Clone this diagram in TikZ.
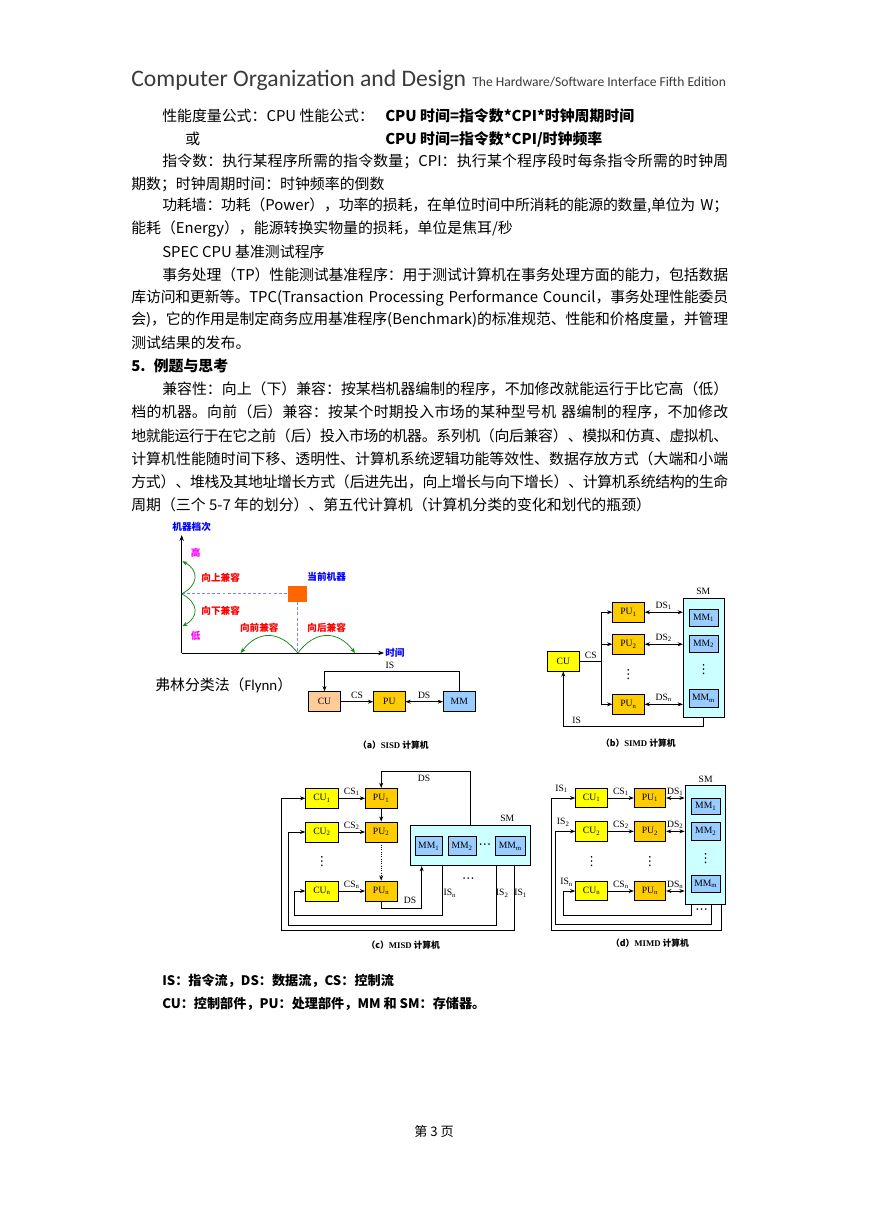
\documentclass[tikz,border=0pt]{standalone}
\usepackage{fontspec}
\setmainfont{Noto Sans CJK SC}
\newfontfamily\hdfont{Carlito}
\newfontfamily\tms{Liberation Serif}
\newfontfamily\symfont{DejaVu Sans}
\usetikzlibrary{arrows.meta}
\XeTeXlinebreaklocale "zh"
\XeTeXlinebreakskip=0pt plus 2pt minus 0.6pt

\definecolor{cupeach}{HTML}{FFCC99}
\definecolor{cuyellow}{HTML}{FFFF00}
\definecolor{puorange}{HTML}{FFCC00}
\definecolor{mmblue}{HTML}{99CCFF}
\definecolor{smcyan}{HTML}{CCFFFF}
\definecolor{tagblue}{HTML}{0000FF}
\definecolor{tagmagenta}{HTML}{FF00FF}
\definecolor{tagred}{HTML}{FF0000}
\definecolor{jumpgreen}{HTML}{118811}
\definecolor{guideblue}{HTML}{7F7FFF}
\definecolor{cursq}{HTML}{FF6600}
\definecolor{headgray}{HTML}{3A3A3A}

\newcommand\bodyfont{\fontsize{10.2}{12}\selectfont}
\newcommand\unitfont{\tms\fontsize{6.6}{7.5}\selectfont}
\newcommand\dotfont{\symfont\fontsize{8.6}{9}\selectfont}
\newcommand\capfont{\fontsize{6}{7}\selectfont\bfseries}
\newcommand\tagfont{\fontsize{6.6}{7.5}\selectfont\bfseries}
\newcommand\notefont{\fontsize{9}{11}\selectfont\bfseries}
\newcommand\fillline[1]{\noindent\leftskip=0pt\rightskip=0pt\parfillskip=0pt\tolerance=9999 #1\par}

\begin{document}
\begin{tikzpicture}[
    x=0.685pt, y=-0.685pt,
    every node/.style={inner sep=0pt},
    txt/.style={anchor=west, font=\bodyfont},
    indline/.style={txt, text width=387.7pt},
    fullline/.style={txt, text width=408.9pt},
    unitbox/.style={draw, line width=0.5pt, font=\unitfont, minimum width=22pt, minimum height=13.4pt},
    cubox/.style={unitbox, fill=cuyellow},
    pubox/.style={unitbox, fill=puorange, minimum width=21.6pt},
    mmbox/.style={unitbox, fill=mmblue, minimum width=20pt, minimum height=11.6pt},
    smbox/.style={draw, line width=0.5pt, fill=smcyan},
    lbl/.style={font=\unitfont},
    dots/.style={font=\dotfont},
    capt/.style={font=\capfont},
    tag/.style={font=\tagfont},
    flow/.style={-{Stealth[length=3.6pt,width=2.7pt]}, line width=0.6pt},
    dsflow/.style={{Stealth[length=3.6pt,width=2.7pt]}-{Stealth[length=3.6pt,width=2.7pt]}, line width=0.6pt},
    link/.style={line width=0.6pt},
    axisline/.style={-{Stealth[length=4pt,width=3pt]}, line width=0.6pt},
    jump/.style={-{Stealth[length=3.6pt,width=2.8pt]}, draw=jumpgreen, line width=0.5pt},
    guide/.style={draw=guideblue, line width=0.6pt, dash pattern=on 2pt off 1.5pt}
]
\path[use as bounding box, fill=white] (0,0) rectangle (869,1228);

\node[anchor=base west, font=\hdfont\fontsize{16.2}{19}\selectfont, text=headgray] (title) at (131,87) {Computer Organization and Design};
\node[anchor=base west, font=\hdfont\fontsize{9.3}{11}\selectfont, text=headgray] (subtitle) at (472,87) {The Hardware/Software Interface Fifth Edition};

\node[txt] (l1a) at (162,116) {性能度量公式：CPU 性能公式：};
\node[txt, font=\bodyfont\bfseries] (l1b) at (385,116) {CPU 时间=指令数*CPI*时钟周期时间};
\node[txt] (l2a) at (185,139) {或};
\node[txt, font=\bodyfont\bfseries] (l2b) at (385,139) {CPU 时间=指令数*CPI/时钟频率};
\node[indline] (l3) at (162,161) {\fillline{指令数：执行某程序所需的指令数量；CPI：执行某个程序段时每条指令所需的时钟周}};
\node[txt] (l4) at (131,184) {期数；时钟周期时间：时钟频率的倒数};
\node[indline] (l5) at (162,206) {\fillline{功耗墙：功耗（Power），功率的损耗，在单位时间中所消耗的能源的数量,单位为 W；}};
\node[txt] (l6) at (131,229) {能耗（Energy），能源转换实物量的损耗，单位是焦耳/秒};
\node[txt] (l7) at (162,252) {SPEC CPU 基准测试程序};
\node[indline] (l8) at (162,275) {\fillline{事务处理（TP）性能测试基准程序：用于测试计算机在事务处理方面的能力，包括数据}};
\node[fullline] (l9) at (131,298) {\fillline{库访问和更新等。TPC(Transaction Processing Performance Council，事务处理性能委员}};
\node[fullline] (l10) at (131,320) {\fillline{会)，它的作用是制定商务应用基准程序(Benchmark)的标准规范、性能和价格度量，并管理}};
\node[txt] (l11) at (131,343) {测试结果的发布。};
\node[txt, font=\bodyfont\bfseries] (sec5) at (131,366) {5.\hspace{0.55em}例题与思考};
\node[indline] (l13) at (162,389) {\fillline{兼容性：向上（下）兼容：按某档机器编制的程序，不加修改就能运行于比它高（低）}};
\node[fullline] (l14) at (131,412) {\fillline{档的机器。向前（后）兼容：按某个时期投入市场的某种型号机 器编制的程序，不加修改}};
\node[fullline] (l15) at (131,436) {\fillline{地就能运行于在它之前（后）投入市场的机器。系列机（向后兼容）、模拟和仿真、虚拟机、}};
\node[fullline] (l16) at (131,459) {\fillline{计算机性能随时间下移、透明性、计算机系统逻辑功能等效性、数据存放方式（大端和小端}};
\node[fullline] (l17) at (131,482) {\fillline{方式）、堆栈及其地址增长方式（后进先出，向上增长与向下增长）、计算机系统结构的生命}};
\node[txt] (l18) at (131,505) {周期（三个 5-7 年的划分）、第五代计算机（计算机分类的变化和划代的瓶颈）};

\coordinate (orig) at (181.7,653);
\coordinate (ytop) at (181.7,535);
\coordinate (xend) at (384,653);
\draw[axisline] (orig) -- (ytop);
\draw[axisline] (orig) -- (xend);
\node[tag, text=tagblue] (yname) at (191.7,527) {机器档次};
\node[tag, text=tagblue, anchor=west] (xname) at (385,653) {时间};
\node[tag, text=tagmagenta] (high) at (195.7,552.5) {高};
\node[tag, text=tagmagenta] (low) at (195.7,636.3) {低};
\node[tag, text=tagred] (upname) at (220.7,577.3) {向上兼容};
\node[tag, text=tagred] (downname) at (220.7,610.7) {向下兼容};
\node[tag, text=tagred] (fwdname) at (259.3,627.3) {向前兼容};
\node[tag, text=tagred] (bwdname) at (326.7,627.3) {向后兼容};
\node[tag, text=tagblue] (curname) at (326.7,577.3) {当前机器};
\node[fill=cursq, minimum width=13pt, minimum height=11.2pt] (cur) at (297.8,593.8) {};
\coordinate (ymid) at (181.7,593.8);
\coordinate (xmid) at (297.8,653);
\coordinate (yhigh) at (182.3,561.3);
\coordinate (ylow) at (182.3,626.3);
\coordinate (xleft) at (240.7,653);
\coordinate (xright) at (355,653);
\draw[guide] (ymid) -- (cur.west);
\draw[guide] (cur.south) -- (xmid);
\draw[jump] (ymid) .. controls (199,585) and (199,570) .. (yhigh);
\draw[jump] (ymid) .. controls (199,603) and (199,617) .. (ylow);
\draw[jump] (xmid) .. controls (280,630) and (258,630) .. (xleft);
\draw[jump] (xmid) .. controls (315,630) and (338,630) .. (xright);

\node[txt] (flynn) at (155,685) {弗林分类法（{\hdfont Flynn}）};

\node[unitbox, fill=cupeach, minimum width=22.2pt, minimum height=13.7pt] (cuA) at (324.5,701.7) {CU};
\node[pubox, minimum height=13.7pt] (puA) at (389.3,701.7) {PU};
\node[unitbox, fill=mmblue, minimum width=21.9pt, minimum height=13.7pt] (mmA) at (459.3,701.7) {MM};
\coordinate (isA) at (390,671.7);
\draw[flow] (cuA) -- (puA) node[lbl, midway, above=1.6pt] (csA) {CS};
\draw[dsflow] (puA) -- (mmA) node[lbl, midway, above=1.6pt] (dsA) {DS};
\draw[flow] (mmA.north) |- (isA) -| (cuA.north);
\node[lbl] (isAl) at (390,665) {IS};
\node[capt] (capA) at (393.3,745) {（a）{\tms SISD} 计算机};

\node[smbox, minimum width=27.9pt, minimum height=81.8pt] (smB) at (703.65,658) {};
\node[lbl] (smBl) at (703.3,591.7) {SM};
\node[mmbox] (mmB1) at (703.65,617.65) {MM\textsubscript{1}};
\node[mmbox] (mmB2) at (703.65,643.65) {MM\textsubscript{2}};
\node[dots] (mmBd) at (703.65,670) {⋮};
\node[mmbox, minimum height=12.5pt] (mmBm) at (703.65,698.15) {MM\textsubscript{m}};
\node[pubox] (puB1) at (628.5,612.2) {PU\textsubscript{1}};
\node[pubox] (puB2) at (628.5,644.2) {PU\textsubscript{2}};
\node[dots] (puBd) at (628.5,674.3) {⋮};
\node[pubox] (puBn) at (628.5,704.3) {PU\textsubscript{n}};
\node[cubox, minimum height=13.7pt] (cuB) at (563.3,661) {CU};
\coordinate (busB) at (601.7,661);
\coordinate (isB) at (576.7,726.7);
\draw[link] (cuB) -- (busB) node[lbl, midway, above=1.6pt] (csB) {CS};
\draw[flow] (busB) |- (puB1);
\draw[flow] (busB) |- (puB2);
\draw[flow] (busB) |- (puBn);
\draw[dsflow] (puB1) -- (puB1 -| smB.west) node[lbl, midway, above=1.4pt] (dsB1) {DS\textsubscript{1}};
\draw[dsflow] (puB2) -- (puB2 -| smB.west) node[lbl, midway, above=1.4pt] (dsB2) {DS\textsubscript{2}};
\draw[dsflow] (puBn) -- (puBn -| smB.west) node[lbl, midway, above=1.4pt] (dsBn) {DS\textsubscript{n}};
\draw[flow] (smB.south) |- (isB) -| (cuB.south);
\node[lbl] (isBl) at (576.7,720) {IS};
\node[capt] (capB) at (638.3,743.3) {（b）{\tms SIMD} 计算机};

\node[cubox, minimum width=22.3pt, minimum height=13.7pt] (cuC1) at (322,798.3) {CU\textsubscript{1}};
\node[cubox, minimum width=22.3pt, minimum height=13.7pt] (cuC2) at (322,832) {CU\textsubscript{2}};
\node[dots] (cuCd) at (322,861.7) {⋮};
\node[cubox, minimum width=22.3pt, minimum height=13.7pt] (cuCn) at (322,891) {CU\textsubscript{n}};
\node[pubox, minimum height=13.7pt] (puC1) at (381.2,798.3) {PU\textsubscript{1}};
\node[pubox, minimum height=13.7pt] (puC2) at (381.2,832) {PU\textsubscript{2}};
\node[pubox, minimum height=13.7pt] (puCn) at (381.2,891) {PU\textsubscript{n}};
\node[smbox, minimum width=82.2pt, minimum height=27.4pt] (smC) at (470,845.7) {};
\node[lbl] (smCl) at (507.3,818.3) {SM};
\node[mmbox, minimum width=19pt, minimum height=13pt] (mmC1) at (428.85,846.2) {MM\textsubscript{1}};
\node[mmbox, minimum width=19pt, minimum height=13pt] (mmC2) at (462.15,846.2) {MM\textsubscript{2}};
\node[dots] (mmCd) at (485,846) {⋯};
\node[mmbox, minimum width=20pt, minimum height=13pt] (mmCm) at (510.35,846.2) {MM\textsubscript{m}};
\draw[flow] (cuC1) -- (puC1) node[lbl, midway, above=1.4pt] (csC1) {CS\textsubscript{1}};
\draw[flow] (cuC2) -- (puC2) node[lbl, midway, above=1.4pt] (csC2) {CS\textsubscript{2}};
\draw[flow] (cuCn) -- (puCn) node[lbl, midway, above=1.4pt] (csCn) {CS\textsubscript{n}};
\draw[flow] (puC1) -- (puC2);
\draw[flow, densely dotted] (puC2) -- (puCn);
\coordinate (dsC) at (424,771.7);
\coordinate (dsCb) at (421.7,908.3);
\draw[flow] (smC.north) |- (dsC) -| (puC1.north);
\node[lbl] (dsCl) at (424,778.3) {DS};
\draw[flow] (puCn.south) |- (dsCb) -- (dsCb |- smC.south);
\node[lbl] (dsCbl) at (410,900) {DS};
\coordinate (tapCn) at (442.3,865.7);
\coordinate (tapC2) at (496.7,865.7);
\coordinate (tapC1) at (514.3,865.7);
\coordinate (isCn) at (294,915);
\coordinate (isC2) at (288.3,925);
\coordinate (isC1) at (281.7,930.7);
\draw[flow] (tapCn) |- (isCn) |- (cuCn.west);
\draw[flow] (tapC2) |- (isC2) |- (cuC2.west);
\draw[flow] (tapC1) |- (isC1) |- (cuC1.west);
\node[lbl] (isCnl) at (450,893.3) {IS\textsubscript{n}};
\node[lbl] (isC2l) at (502.3,893.3) {IS\textsubscript{2}};
\node[lbl] (isC1l) at (520.7,893.3) {IS\textsubscript{1}};
\node[dots] (isCd) at (468.3,880) {⋯};
\node[capt] (capC) at (403.3,945) {（c）{\tms MISD} 计算机};

\node[smbox, minimum width=27.9pt, minimum height=81.7pt] (smD) at (705.35,844.65) {};
\node[lbl] (smDl) at (705.7,779) {SM};
\node[mmbox, minimum width=20.3pt, minimum height=11pt] (mmD1) at (705.85,806.3) {MM\textsubscript{1}};
\node[mmbox, minimum width=20.3pt, minimum height=12.1pt] (mmD2) at (705.85,831.15) {MM\textsubscript{2}};
\node[dots] (mmDd) at (705.7,859) {⋮};
\node[mmbox, minimum width=20.3pt, minimum height=12.1pt] (mmDm) at (705.85,883.85) {MM\textsubscript{m}};
\node[cubox] (cuD1) at (591.7,798) {CU\textsubscript{1}};
\node[cubox] (cuD2) at (591.7,831.35) {CU\textsubscript{2}};
\node[dots] (cuDd) at (591.7,861.7) {⋮};
\node[cubox] (cuDn) at (591.7,891) {CU\textsubscript{n}};
\node[pubox] (puD1) at (650,798) {PU\textsubscript{1}};
\node[pubox] (puD2) at (650,831.35) {PU\textsubscript{2}};
\node[dots] (puDd) at (650,861.7) {⋮};
\node[pubox] (puDn) at (650,891) {PU\textsubscript{n}};
\draw[flow] (cuD1) -- (puD1) node[lbl, midway, above=1.4pt] (csD1) {CS\textsubscript{1}};
\draw[flow] (cuD2) -- (puD2) node[lbl, midway, above=1.4pt] (csD2) {CS\textsubscript{2}};
\draw[flow] (cuDn) -- (puDn) node[lbl, midway, above=1.4pt] (csDn) {CS\textsubscript{n}};
\draw[dsflow] (puD1) -- (puD1 -| smD.west) node[lbl, midway, above=1.4pt] (dsD1) {DS\textsubscript{1}};
\draw[dsflow] (puD2) -- (puD2 -| smD.west) node[lbl, midway, above=1.4pt] (dsD2) {DS\textsubscript{2}};
\draw[dsflow] (puDn) -- (puDn -| smD.west) node[lbl, midway, above=1.4pt] (dsDn) {DS\textsubscript{n}};
\coordinate (tapDn) at (691.7,904.3);
\coordinate (tapD2) at (711.7,904.3);
\coordinate (tapD1) at (721,904.3);
\coordinate (isDn) at (563.3,915);
\coordinate (isD2) at (555,924.3);
\coordinate (isD1) at (551,930.7);
\draw[flow] (tapDn) |- (isDn) |- (cuDn.west);
\draw[flow] (tapD2) |- (isD2) |- (cuD2.west);
\draw[flow] (tapD1) |- (isD1) |- (cuD1.west);
\node[lbl] (isD1l) at (561.7,789) {IS\textsubscript{1}};
\node[lbl] (isD2l) at (563.3,822.3) {IS\textsubscript{2}};
\node[lbl] (isDnl) at (566.7,882.3) {IS\textsubscript{n}};
\node[dots] (isDd) at (701.7,910.7) {⋯};
\node[capt] (capD) at (650,943.3) {（d）{\tms MIMD} 计算机};

\node[txt, font=\notefont] (note1) at (162,981) {IS：指令流，DS：数据流，CS：控制流};
\node[txt, font=\notefont] (note2) at (162,1004) {CU：控制部件，PU：处理部件，MM 和 SM：存储器。};
\node[font=\fontsize{9}{11}\selectfont] (foot) at (434,1131) {第 3 页};
\end{tikzpicture}
\end{document}
